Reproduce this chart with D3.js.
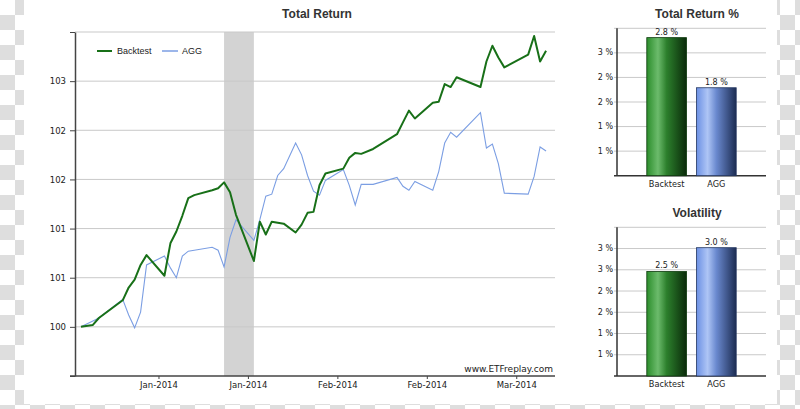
<!DOCTYPE html>
<html>
<head>
<meta charset="utf-8">
<script src="https://cdn.jsdelivr.net/npm/d3@7"></script>
<style>
  body { margin: 0; background: #fff; }
  svg text { font-family: "DejaVu Sans", sans-serif; fill: #222; }
  .title { font-family: "Liberation Sans", Arial, sans-serif; font-weight: bold; font-size: 12px; fill: #333; }
  .tick-label { font-size: 8.5px; }
  .legend { font-family: "Liberation Sans", Arial, sans-serif; font-size: 9px; }
</style>
</head>
<body>
<svg id="chart" width="800" height="409"></svg>
<script>
// line chart data (growth of 100)
var dates = ["2013-12-23","2013-12-25","2013-12-26","2013-12-30","2013-12-31","2014-01-01","2014-01-02","2014-01-03",
  "2014-01-06","2014-01-07","2014-01-08","2014-01-09","2014-01-10","2014-01-11",
  "2014-01-14","2014-01-15","2014-01-16","2014-01-17","2014-01-18",
  "2014-01-21","2014-01-22","2014-01-23","2014-01-24","2014-01-25","2014-01-26",
  "2014-01-28","2014-01-29","2014-01-30","2014-01-31","2014-02-01","2014-02-02",
  "2014-02-05","2014-02-06","2014-02-07","2014-02-08",
  "2014-02-10",
  "2014-02-14","2014-02-15","2014-02-16","2014-02-17",
  "2014-02-20","2014-02-21","2014-02-22","2014-02-23","2014-02-24",
  "2014-02-28","2014-03-01","2014-03-02","2014-03-03","2014-03-04",
  "2014-03-08","2014-03-09","2014-03-10","2014-03-11"];

var backtest = [100.00, 100.02, 100.09, 100.27, 100.40, 100.48, 100.63, 100.73,
  100.52, 100.85, 100.97, 101.13, 101.31, 101.34,
  101.39, 101.41, 101.47, 101.37, 101.14,
  100.67, 101.07, 100.94, 101.07, 101.06, 101.05,
  100.96, 101.04, 101.16, 101.17, 101.44, 101.56,
  101.61, 101.72, 101.77, 101.76,
  101.81,
  101.96, 102.08, 102.20, 102.12,
  102.28, 102.29, 102.47, 102.44, 102.54,
  102.44, 102.70, 102.86, 102.74, 102.64,
  102.77, 102.96, 102.70, 102.81];

var agg = [100.00, 100.06, 100.09, 100.28, 100.12, 99.99, 100.15, 100.63,
  100.72, 100.60, 100.50, 100.72, 100.77, 100.78,
  100.81, 100.78, 100.61, 100.91, 101.09,
  100.88, 101.09, 101.33, 101.35, 101.54, 101.61,
  101.87, 101.75, 101.54, 101.38, 101.34, 101.49,
  101.60, 101.44, 101.24, 101.45,
  101.45,
  101.52, 101.43, 101.39, 101.48,
  101.39, 101.58, 101.87, 101.98, 101.93,
  102.18, 101.82, 101.86, 101.66, 101.36,
  101.35, 101.53, 101.83, 101.79];

var shadeDates = ["2014-01-16", "2014-01-21"];
var xTickDates = ["2014-01-05", "2014-01-20", "2014-02-04", "2014-02-19", "2014-03-06"];
var yTicks = [99.5, 100, 100.5, 101, 101.5, 102, 102.5, 103];

// bar charts
var barNames = ["Backtest", "AGG"];
var totalReturn = [2.81, 1.79];
var volatility = [2.46, 3.02];

var parseDate = d3.timeParse("%Y-%m-%d");
var svg = d3.select("#chart");
var defs = svg.append("defs");

// checker pattern at the edges (transparent png look)
var pat = defs.append("pattern")
    .attr("id", "checker")
    .attr("width", 30)
    .attr("height", 30)
    .attr("patternUnits", "userSpaceOnUse");
pat.append("rect").attr("width", 30).attr("height", 30).attr("fill", "#fff");
pat.append("rect").attr("x", 15).attr("y", 0).attr("width", 15).attr("height", 15).attr("fill", "#dedede");
pat.append("rect").attr("x", 0).attr("y", 15).attr("width", 15).attr("height", 15).attr("fill", "#dedede");
svg.append("rect").attr("width", 800).attr("height", 409).attr("fill", "url(#checker)");
svg.append("rect").attr("x", 24).attr("y", 0).attr("width", 753).attr("height", 404).attr("fill", "#fff");

function AddGradient(id, stops) {
  var grad = defs.append("linearGradient")
      .attr("id", id)
      .attr("x1", "0%").attr("x2", "100%")
      .attr("y1", "0%").attr("y2", "0%");
  grad.selectAll("stop")
      .data(stops)
      .enter()
      .append("stop")
      .attr("offset", function(d) { return d[0]; })
      .attr("stop-color", function(d) { return d[1]; });
}
AddGradient("gradGreen", [["0%", "#2b8d2b"], ["28%", "#6cbb6c"], ["50%", "#2c7f2c"], ["100%", "#0a2a0a"]]);
AddGradient("gradBlue", [["0%", "#6b90e4"], ["28%", "#aec5f5"], ["50%", "#6a89cf"], ["100%", "#1c2c52"]]);

// ---------- Total Return line chart ----------
var x = d3.scaleTime()
    .domain([new Date(2013, 11, 22), new Date(2014, 2, 12, 12)])
    .range([75, 555]);
var y = d3.scaleLinear()
    .domain([99.5, 103])
    .range([376, 32]);

var lineData = dates.map(function(d, i) {
  return {date: parseDate(d), backtest: backtest[i], agg: agg[i]};
});

var main = svg.append("g");

main.append("rect")
    .attr("x", x(parseDate(shadeDates[0])))
    .attr("y", y(103))
    .attr("width", x(parseDate(shadeDates[1])) - x(parseDate(shadeDates[0])))
    .attr("height", y(99.5) - y(103))
    .attr("fill", "#d3d3d3");

main.selectAll(".grid")
    .data(yTicks.slice(1))
    .enter()
    .append("line")
    .attr("class", "grid")
    .attr("x1", 75)
    .attr("x2", 555)
    .attr("y1", function(d) { return y(d); })
    .attr("y2", function(d) { return y(d); })
    .attr("stroke", "#c9c9c9")
    .attr("stroke-width", 1);

var yAxis = d3.axisLeft(y)
    .tickValues(yTicks)
    .tickSize(5)
    .tickSizeOuter(0)
    .tickPadding(4)
    .tickFormat(function(d) { return (d < 100 || d > 102.5) ? "" : d3.format(".0f")(d); });

var gy = main.append("g")
    .attr("transform", "translate(75,0)")
    .call(yAxis);
gy.select(".domain").attr("stroke", "#444").attr("stroke-width", 1.5);
gy.selectAll(".tick line").attr("stroke", "#444");
gy.selectAll(".tick text").attr("class", "tick-label").attr("fill", "#222").style("font-family", "DejaVu Sans");

var xAxis = d3.axisBottom(x)
    .tickValues(xTickDates.map(parseDate))
    .tickSize(3)
    .tickSizeOuter(0)
    .tickPadding(3)
    .tickFormat(d3.timeFormat("%b-%Y"));

var gx = main.append("g")
    .attr("transform", "translate(0,376)")
    .call(xAxis);
gx.select(".domain").remove();
gx.selectAll(".tick line").attr("stroke", "#444");
gx.selectAll(".tick text").attr("class", "tick-label").attr("fill", "#222").style("font-family", "DejaVu Sans");
main.append("line")
    .attr("x1", 70).attr("x2", 555)
    .attr("y1", 376).attr("y2", 376)
    .attr("stroke", "#444")
    .attr("stroke-width", 1.5);

var lineAgg = d3.line()
    .x(function(d) { return x(d.date); })
    .y(function(d) { return y(d.agg); });
var lineBack = d3.line()
    .x(function(d) { return x(d.date); })
    .y(function(d) { return y(d.backtest); });

main.append("path")
    .datum(lineData)
    .attr("d", lineAgg)
    .attr("fill", "none")
    .attr("stroke", "#7b9ee3")
    .attr("stroke-width", 1.1);

main.append("path")
    .datum(lineData)
    .attr("d", lineBack)
    .attr("fill", "none")
    .attr("stroke", "#187018")
    .attr("stroke-width", 2)
    .attr("stroke-linejoin", "round");

main.append("text")
    .attr("class", "title")
    .attr("x", 317)
    .attr("y", 17.5)
    .attr("text-anchor", "middle")
    .text("Total Return");

// legend
var legend = main.append("g").attr("transform", "translate(97,51)");
legend.append("line").attr("x1", 0).attr("x2", 15).attr("stroke", "#187018").attr("stroke-width", 2);
legend.append("text").attr("class", "legend").attr("x", 20).attr("dy", "0.35em").text("Backtest");
legend.append("line").attr("x1", 65).attr("x2", 81).attr("stroke", "#7b9ee3").attr("stroke-width", 1.5);
legend.append("text").attr("class", "legend").attr("x", 85).attr("dy", "0.35em").text("AGG");

main.append("text")
    .attr("x", 553)
    .attr("y", 372)
    .attr("text-anchor", "end")
    .style("font-size", "9px")
    .attr("fill", "#333")
    .text("www.ETFreplay.com");

// ---------- bar charts ----------
function MakeBars(title, values, maxVal, top, bottom, titleY) {
  var g = svg.append("g");
  var xb = d3.scalePoint().domain(barNames).range([617, 766]).padding(1);
  var yb = d3.scaleLinear().domain([0, maxVal]).range([bottom, top]);
  var ticks = d3.range(0.5, maxVal + 0.01, 0.5);
  var barW = xb.step() * 0.8;

  g.selectAll(".grid")
      .data(ticks)
      .enter()
      .append("line")
      .attr("x1", 614)
      .attr("x2", 766)
      .attr("y1", function(d) { return yb(d); })
      .attr("y2", function(d) { return yb(d); })
      .attr("stroke", "#c9c9c9");

  g.selectAll(".ylab")
      .data(ticks.filter(function(d) { return d < maxVal; }))
      .enter()
      .append("text")
      .attr("class", "tick-label")
      .attr("x", 613)
      .attr("y", function(d) { return yb(d); })
      .attr("dy", "0.32em")
      .attr("text-anchor", "end")
      .style("font-size", "8px")
      .text(function(d) { return d3.format(".0f")(d) + " %"; });

  g.append("line")
      .attr("x1", 617).attr("x2", 617)
      .attr("y1", top).attr("y2", bottom)
      .attr("stroke", "#333").attr("stroke-width", 1.5);
  g.append("line")
      .attr("x1", 614).attr("x2", 766)
      .attr("y1", bottom).attr("y2", bottom)
      .attr("stroke", "#333").attr("stroke-width", 1.5);

  g.selectAll(".bar")
      .data(values)
      .enter()
      .append("rect")
      .attr("x", function(d, i) { return xb(barNames[i]) - barW / 2; })
      .attr("y", function(d) { return yb(d); })
      .attr("width", barW)
      .attr("height", function(d) { return bottom - yb(d); })
      .attr("fill", function(d, i) { return i == 0 ? "url(#gradGreen)" : "url(#gradBlue)"; })
      .attr("stroke", function(d, i) { return i == 0 ? "#0d3a0d" : "#233661"; })
      .attr("stroke-width", 0.8);

  g.selectAll(".val")
      .data(values)
      .enter()
      .append("text")
      .attr("x", function(d, i) { return xb(barNames[i]); })
      .attr("y", function(d) { return yb(d) - 3; })
      .attr("text-anchor", "middle")
      .style("font-size", "8px")
      .text(function(d) { return d3.format(".1f")(d) + " %"; });

  g.selectAll(".cat")
      .data(barNames)
      .enter()
      .append("text")
      .attr("x", function(d) { return xb(d); })
      .attr("y", bottom + 11)
      .attr("text-anchor", "middle")
      .style("font-size", "8.2px")
      .text(function(d) { return d; });

  g.append("text")
      .attr("class", "title")
      .attr("x", 697)
      .attr("y", titleY)
      .attr("text-anchor", "middle")
      .text(title);
}

MakeBars("Total Return %", totalReturn, 3, 28.3, 175.7, 18);
MakeBars("Volatility", volatility, 3.5, 227.3, 376, 216.5);
</script>
</body>
</html>
